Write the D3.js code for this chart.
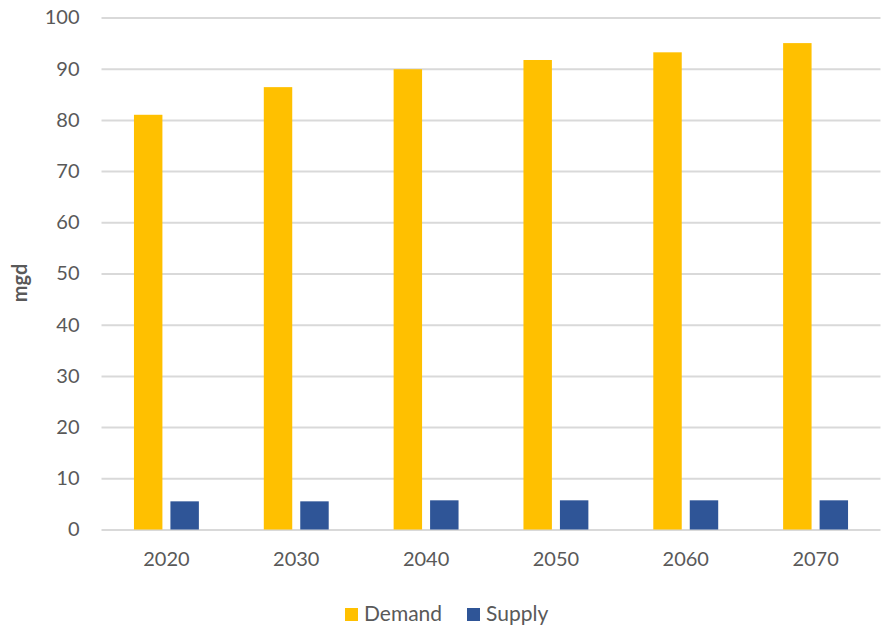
<!DOCTYPE html>
<html>
<head>
<meta charset="utf-8">
<script src="https://cdn.jsdelivr.net/npm/d3@7"></script>
<style>
  html, body { margin: 0; padding: 0; background: #fff; }
  svg { display: block; }
  text { font-family: Lato, "Liberation Sans", sans-serif; fill: #595959; }
</style>
</head>
<body>
<svg id="chart" width="884" height="630"></svg>
<script>
// Projected water demand vs. supply (million gallons per day)
const years = ["2020", "2030", "2040", "2050", "2060", "2070"];
const demand = [81.0, 86.4, 89.9, 91.7, 93.2, 95.0];
const supply = [5.5, 5.5, 5.7, 5.7, 5.7, 5.7];
const seriesNames = ["Demand", "Supply"];
const seriesColors = ["#FFC000", "#2F5597"];
const yTicks = [0, 10, 20, 30, 40, 50, 60, 70, 80, 90, 100];
const yTitle = "mgd";

const W = 884, H = 630;
const plot = { left: 101.5, right: 880.5, top: 17.5, bottom: 529.5 };

const svg = d3.select("#chart");

const y = d3.scaleLinear().domain([0, 100]).range([plot.bottom, plot.top]);
const x0 = d3.scaleBand().domain(years).range([plot.left, plot.right]).padding(0);
const bw = x0.bandwidth();
const x1 = d3.scaleBand().domain(seriesNames)
  .range([bw * 0.25, bw * 0.75]).paddingInner(0.22).paddingOuter(0);

// horizontal gridlines
const yAxis = d3.axisLeft(y).tickValues(yTicks).tickSize(-(plot.right - plot.left)).tickPadding(22);
const gy = svg.append("g").attr("transform", `translate(${plot.left},0)`).call(yAxis);
gy.select(".domain").remove();
gy.selectAll(".tick line").attr("stroke", "#D9D9D9").attr("stroke-width", 2);
gy.selectAll(".tick text")
  .attr("font-size", 20).attr("fill", "#595959")
  .style("font-family", "Lato, 'Liberation Sans', sans-serif");

// bars
const rows = years.map((yr, i) => ({ year: yr, values: [demand[i], supply[i]] }));
const groups = svg.append("g").selectAll("g").data(rows).join("g")
  .attr("transform", d => `translate(${x0(d.year)},0)`);
groups.selectAll("rect")
  .data(d => d.values.map((v, k) => ({ key: seriesNames[k], value: v, color: seriesColors[k] })))
  .join("rect")
  .attr("x", d => x1(d.key))
  .attr("width", x1.bandwidth())
  .attr("y", d => y(d.value))
  .attr("height", d => y(0) - y(d.value))
  .attr("fill", d => d.color);

// category axis (labels only)
const xAxis = d3.axisBottom(x0).tickSize(0).tickPadding(22);
const gx = svg.append("g").attr("transform", `translate(0,${plot.bottom})`).call(xAxis);
gx.select(".domain").remove();
gx.selectAll(".tick text")
  .attr("font-size", 20).attr("fill", "#595959")
  .style("font-family", "Lato, 'Liberation Sans', sans-serif");

// value axis title
svg.append("text")
  .attr("transform", `translate(27,283) rotate(-90)`)
  .attr("text-anchor", "middle")
  .attr("font-size", 20).attr("font-weight", "bold")
  .text(yTitle);

// legend
const legendItems = [
  { name: seriesNames[0], color: seriesColors[0], x: 345 },
  { name: seriesNames[1], color: seriesColors[1], x: 467 }
];
const lg = svg.append("g").selectAll("g").data(legendItems).join("g")
  .attr("transform", d => `translate(${d.x},608)`);
lg.append("rect").attr("width", 13).attr("height", 13).attr("fill", d => d.color);
lg.append("text").attr("x", 19).attr("y", 13).attr("font-size", 21).text(d => d.name);
</script>
</body>
</html>
